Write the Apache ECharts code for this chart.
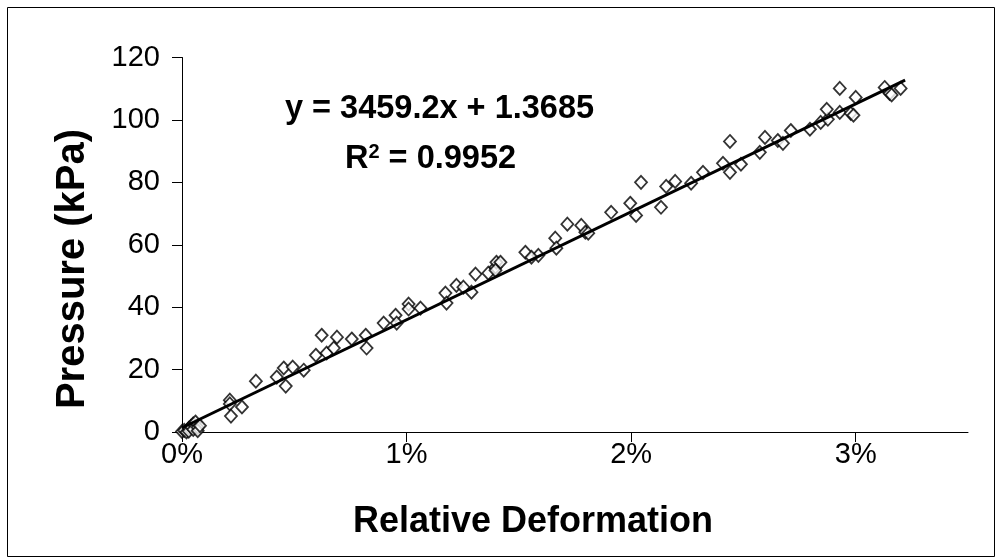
<!DOCTYPE html>
<html>
<head>
<meta charset="utf-8">
<script src="https://cdn.jsdelivr.net/npm/echarts@6/dist/echarts.min.js"></script>
<style>
  html, body { margin: 0; padding: 0; background: #fff; }
  #chart { width: 1002px; height: 559px; }
</style>
</head>
<body>
<div id="chart"></div>
<script>
// measured points: relative deformation (%) and pressure (kPa)
const deformation = [
  0.00, 0.01, 0.02, 0.03, 0.03, 0.04, 0.05, 0.05, 0.06, 0.07, 0.07, 0.08,
  0.213, 0.213, 0.218, 0.267, 0.329, 0.422, 0.453, 0.462, 0.493, 0.542,
  0.596, 0.622, 0.644, 0.676, 0.690, 0.756, 0.818, 0.822, 0.898, 0.951,
  0.956, 1.009, 1.009, 1.062, 1.173, 1.178, 1.222, 1.253, 1.289, 1.307,
  1.364, 1.396, 1.400, 1.418, 1.396, 1.529, 1.587, 1.556, 1.662, 1.667,
  1.716, 1.778, 1.796, 1.809, 1.911, 1.996, 2.022, 2.044, 2.133, 2.156,
  2.196, 2.267, 2.320, 2.409, 2.440, 2.440, 2.489, 2.573, 2.596, 2.653,
  2.676, 2.711, 2.796, 2.844, 2.876, 2.871, 2.929, 2.929, 2.978, 3.000,
  3.129, 3.151, 3.200, 2.990, 3.160
]
const pressure = [
  0.2, 0.5, 0.0, 1.2, 0.3, 1.8, 2.6, 0.8, 3.2, 1.5, 0.4, 2.0,
  10.2, 9.0, 5.1, 8.0, 16.3, 17.6, 20.5, 14.7, 20.8, 19.8,
  24.6, 31.0, 25.3, 26.9, 30.4, 29.8, 31.0, 26.9, 34.9, 37.4,
  34.9, 41.0, 39.4, 39.7, 44.5, 41.3, 47.0, 46.4, 44.8, 50.6,
  50.9, 52.8, 54.4, 54.4, 51.8, 57.6, 56.6, 56.0, 62.1, 58.9,
  66.6, 66.2, 64.0, 63.7, 70.4, 73.3, 69.4, 80.0, 72.0, 78.7,
  80.3, 79.7, 83.2, 86.1, 83.2, 93.1, 85.8, 89.6, 94.4, 93.4,
  92.5, 96.6, 97.0, 99.2, 100.2, 103.4, 102.4, 110.1, 102.1, 107.2,
  110.4, 108.5, 110.1, 101.5, 108.0
]

// linear trend (Excel)
const slope = 3459.2
const intercept = 1.3685
const trendX = [0, 3.22]

const xTicks = [0, 1, 2, 3]
const yTicks = [0, 20, 40, 60, 80, 100, 120]

const points = deformation.map((d, i) => [d, pressure[i]])
const trend = trendX.map(x => [x, slope * x / 100 + intercept])

const font = '"Liberation Sans", Arial, sans-serif'

const chart = echarts.init(document.getElementById('chart'))
chart.setOption({
  animation: false,
  backgroundColor: '#fff',
  grid: { left: 182, right: 34, top: 57.5, bottom: 127 },
  xAxis: {
    type: 'value',
    min: 0,
    max: 3.5,
    interval: 1,
    axisLine: { show: true, lineStyle: { color: '#000', width: 1 } },
    axisTick: { show: true, length: 10, lineStyle: { color: '#000' }, customValues: xTicks },
    axisLabel: {
      fontFamily: font, fontSize: 29, color: '#000', margin: 8,
      customValues: xTicks,
      formatter: v => v + '%'
    },
    splitLine: { show: false }
  },
  yAxis: {
    type: 'value',
    min: 0,
    max: 120,
    interval: 20,
    axisLine: { show: true, lineStyle: { color: '#000', width: 1 } },
    axisTick: { show: true, length: 10, lineStyle: { color: '#000' }, customValues: yTicks },
    axisLabel: { fontFamily: font, fontSize: 29, color: '#000', margin: 22, customValues: yTicks },
    splitLine: { show: false }
  },
  graphic: [
    {
      type: 'rect',
      shape: { x: 7.5, y: 7.5, width: 987, height: 549 },
      style: { fill: null, stroke: '#000', lineWidth: 1 },
      z: -1
    },
    {
      type: 'text',
      x: 533, y: 522,
      style: {
        text: 'Relative Deformation', font: 'bold 36px ' + font, fill: '#000',
        align: 'center', verticalAlign: 'middle'
      }
    },
    {
      type: 'text',
      x: 73, y: 269, rotation: Math.PI / 2,
      style: {
        text: 'Pressure (kPa)', font: 'bold 40px ' + font, fill: '#000',
        align: 'center', verticalAlign: 'middle'
      }
    },
    {
      type: 'text',
      left: 285, top: 93,
      style: { text: 'y = 3459.2x + 1.3685', font: 'bold 32.5px ' + font, fill: '#000' }
    },
    {
      type: 'text',
      left: 345, top: 142,
      style: {
        text: '{b|R}{s|2}{b| = 0.9952}',
        rich: {
          b: { font: 'bold 32.5px ' + font, color: '#000' },
          s: { font: 'bold 20px ' + font, color: '#000', verticalAlign: 'top', padding: [0, 0, 14, 0] }
        }
      }
    }
  ],
  series: [
    {
      type: 'scatter',
      data: points,
      symbol: 'diamond',
      symbolSize: [12, 13],
      itemStyle: { color: '#fff', borderColor: '#000', borderWidth: 1.8 },
      z: 2
    },
    {
      type: 'line',
      data: trend,
      showSymbol: false,
      lineStyle: { color: '#000', width: 3 },
      z: 3
    }
  ]
})
</script>
</body>
</html>
